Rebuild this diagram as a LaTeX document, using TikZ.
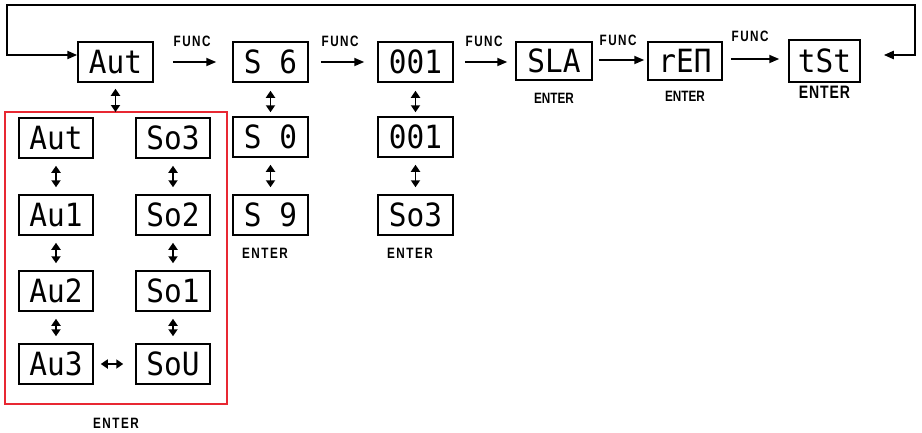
\documentclass[tikz,border=0pt]{standalone}
\usepackage{fontspec}
\usetikzlibrary{arrows.meta,positioning}
\newfontfamily\segfont[FakeStretch=0.92]{DejaVu Sans Mono}
\newfontfamily\lblfont[FakeStretch=0.78]{Liberation Sans}
\definecolor{frameRed}{RGB}{232,40,50}

\begin{document}
\begin{tikzpicture}[
  x=1pt,
  y=-1pt,
  disp/.style={draw, line width=1.5pt, minimum width=75pt, minimum height=40pt,
    inner sep=0pt, font=\segfont\fontsize{32}{32}\selectfont},
  flow/.style={line width=1.8pt, -{Triangle[length=10pt,width=8pt]}},
  swap/.style={line width=1.8pt,
    {Triangle[length=7pt,width=9pt]}-{Triangle[length=7pt,width=9pt]},
    shorten <=7pt, shorten >=7pt},
  ringline/.style={line width=2.2pt,
    {Triangle[length=10pt,width=8pt]}-{Triangle[length=10pt,width=8pt]}},
  lbl/.style={inner sep=0pt, font=\lblfont\bfseries\fontsize{15}{15}\selectfont},
  wide/.style={font=\lblfont\bfseries\fontsize{15}{15}\selectfont\addfontfeature{LetterSpace=10}}
]
\useasboundingbox (0,0) rectangle (922,432);

% top row
\node[disp] (aut) at (115.5,62) {Aut};
\node[disp] (s6) at (270.5,62) {S 6};
\node[disp] (addr) at (415.5,62) {001};
\node[disp, minimum width=76pt, minimum height=38pt] (sla) at (554,61) {SLA};
\node[disp, minimum width=74pt, minimum height=38pt] (rem) at (685,61) {rEΠ};
\node[disp, minimum width=71pt, minimum height=42pt] (tst) at (824.5,61) {tSt};

% FUNC steps
\draw[flow] ([xshift=19pt]aut.east) -- ([xshift=-16pt]aut.east -| s6.west)
  node[lbl, wide, pos=0, anchor=south west, yshift=14pt] {FUNC};
\draw[flow] ([xshift=12pt]s6.east) -- ([xshift=-13pt]s6.east -| addr.west)
  node[lbl, wide, pos=0, anchor=south west, yshift=14pt] {FUNC};
\draw[flow] ([xshift=11pt]addr.east) -- ([xshift=-8pt]addr.east -| sla.west)
  node[lbl, wide, pos=0, anchor=south west, yshift=14pt] {FUNC};
\draw[flow] ([xshift=6pt,yshift=1pt]sla.east) -- ([xshift=-3pt,yshift=1pt]sla.east -| rem.west)
  node[lbl, wide, pos=0, anchor=south west, yshift=13pt] {FUNC};
\draw[flow] ([xshift=8pt,yshift=2pt]rem.east) -- ([xshift=-9pt,yshift=2pt]rem.east -| tst.west)
  node[lbl, wide, pos=0, anchor=south west, yshift=16pt] {FUNC};

% return line
\coordinate (cornerR) at (915,5);
\coordinate (cornerL) at (7,5);
\draw[ringline] ([xshift=23pt,yshift=6pt]tst.east) -| (cornerR) -- (cornerL)
  |- ([yshift=7pt]aut.west);

\node[lbl, below=12pt of sla] (enterSla) {ENTER};
\node[lbl, below=10pt of rem] (enterRem) {ENTER};
\node[lbl, below=3pt of tst,
  font=\lblfont\bfseries\fontsize{18}{18}\selectfont\addfontfeature{LetterSpace=5}] (enterTst) {ENTER};

% S column
\node[disp] (s0) at (270.5,137) {S 0};
\node[disp] (s9) at (270.5,215) {S 9};
\draw[swap, shorten <=8pt, shorten >=4pt] (s6.south) -- (s0.north);
\draw[swap] (s0.south) -- (s9.north);
\node[lbl, wide, below=12pt of s9, xshift=-5.5pt] (enterS) {ENTER};

% address column
\node[disp] (addrB) at (415.5,137) {001};
\node[disp] (so3B) at (415.5,215) {So3};
\draw[swap, shorten <=8pt, shorten >=4pt] (addr.south) -- (addrB.north);
\draw[swap] (addrB.south) -- (so3B.north);
\node[lbl, wide, below=12pt of so3B, xshift=-5.5pt] (enterAddr) {ENTER};

% mode group
\draw[frameRed, line width=1.4pt] (5,112) rectangle (227,404);
\coordinate (groupTop) at (117,112);
\draw[swap, shorten <=6pt, shorten >=0pt] (aut.south) -- (aut.south |- groupTop);

\node[disp, minimum width=74pt] (au0) at (56,138) {Aut};
\node[disp, minimum width=74pt] (au1) at (56,215) {Au1};
\node[disp, minimum width=74pt] (au2) at (56,291) {Au2};
\node[disp, minimum width=74pt] (au3) at (56,364) {Au3};
\node[disp, minimum width=74pt] (so3) at (173,138) {So3};
\node[disp, minimum width=74pt] (so2) at (173,215) {So2};
\node[disp, minimum width=74pt] (so1) at (173,291) {So1};
\node[disp, minimum width=74pt] (sou) at (173,364) {SoU};

\draw[swap] (au0.south) -- (au1.north);
\draw[swap] (au1.south) -- (au2.north);
\draw[swap] (au2.south) -- (au3.north);
\draw[swap] (so3.south) -- (so2.north);
\draw[swap] (so2.south) -- (so1.north);
\draw[swap] (so1.south) -- (sou.north);
\draw[swap, shorten >=12pt] (au3.east) -- (sou.west);

\node[lbl, wide] (enterMode) at (116,423) {ENTER};
\end{tikzpicture}
\end{document}
